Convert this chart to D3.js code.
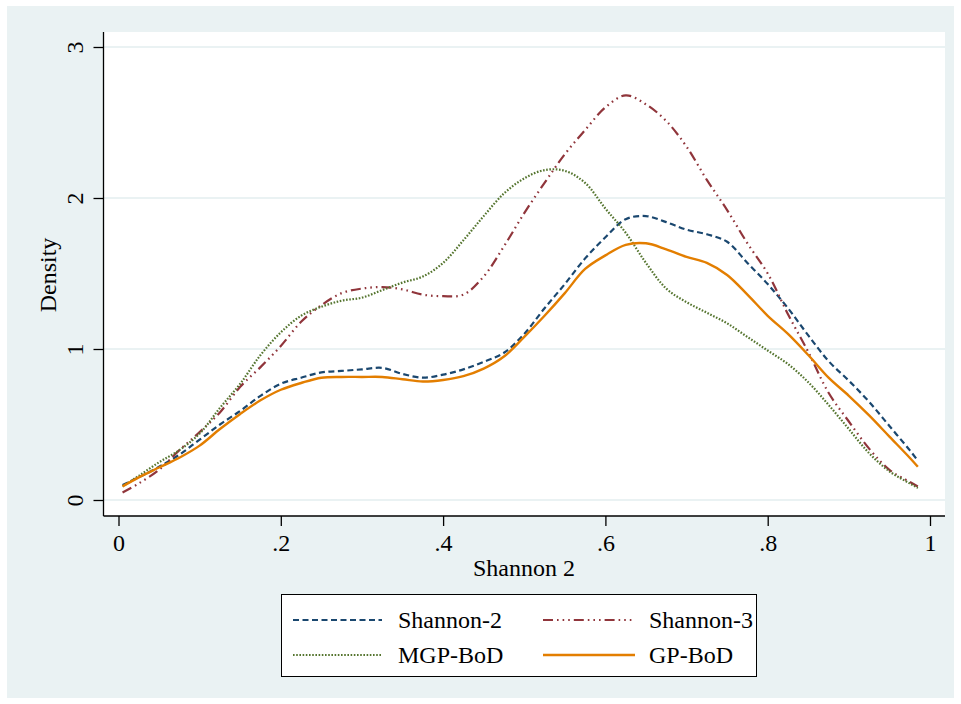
<!DOCTYPE html>
<html>
<head>
<meta charset="utf-8">
<script src="https://cdn.jsdelivr.net/npm/d3@7"></script>
<style>
  body { margin: 0; background: #fff; }
  text { font-family: "Liberation Serif", "Times New Roman", serif; fill: #000; }
</style>
</head>
<body>
<svg id="chart" width="961" height="704"></svg>
<script>
// density estimates
var xs = [0.005, 0.025, 0.05, 0.075, 0.1, 0.125, 0.15, 0.175, 0.2, 0.225, 0.25, 0.275, 0.3, 0.325,
    0.35, 0.375, 0.4, 0.425, 0.45, 0.475, 0.5, 0.525, 0.55, 0.575, 0.6, 0.625, 0.65, 0.675, 0.7,
    0.725, 0.75, 0.775, 0.8, 0.825, 0.85, 0.875, 0.9, 0.925, 0.95, 0.975, 0.985];

var shannon2 = [0.10, 0.15, 0.22, 0.30, 0.40, 0.50, 0.59, 0.69, 0.77, 0.81, 0.845, 0.855, 0.865, 0.875,
    0.835, 0.81, 0.83, 0.865, 0.915, 0.975, 1.10, 1.27, 1.43, 1.60, 1.74, 1.86, 1.88, 1.84, 1.79,
    1.76, 1.71, 1.57, 1.43, 1.27, 1.09, 0.92, 0.79, 0.65, 0.49, 0.33, 0.26];

var shannon3 = [0.05, 0.11, 0.20, 0.33, 0.45, 0.58, 0.75, 0.88, 1.02, 1.18, 1.29, 1.37, 1.40, 1.41,
    1.395, 1.36, 1.35, 1.36, 1.48, 1.68, 1.90, 2.10, 2.29, 2.45, 2.60, 2.68, 2.62, 2.51, 2.34,
    2.12, 1.92, 1.70, 1.50, 1.23, 0.98, 0.71, 0.52, 0.34, 0.20, 0.12, 0.09];

var mgpBoD = [0.09, 0.16, 0.25, 0.33, 0.44, 0.61, 0.77, 0.96, 1.11, 1.22, 1.28, 1.32, 1.34, 1.39,
    1.44, 1.48, 1.57, 1.72, 1.88, 2.03, 2.13, 2.185, 2.18, 2.10, 1.93, 1.77, 1.57, 1.40, 1.31,
    1.24, 1.17, 1.08, 0.99, 0.90, 0.78, 0.63, 0.47, 0.31, 0.19, 0.11, 0.08];

var gpBoD = [0.09, 0.15, 0.215, 0.28, 0.36, 0.47, 0.57, 0.66, 0.73, 0.775, 0.81, 0.815, 0.815, 0.815,
    0.80, 0.785, 0.795, 0.82, 0.87, 0.95, 1.08, 1.22, 1.37, 1.53, 1.62, 1.69, 1.70, 1.66, 1.61,
    1.57, 1.49, 1.36, 1.22, 1.10, 0.96, 0.81, 0.69, 0.56, 0.42, 0.28, 0.22];

var xTicks = [0, 0.2, 0.4, 0.6, 0.8, 1];
var xTickLabels = ["0", ".2", ".4", ".6", ".8", "1"];
var yTicks = [0, 1, 2, 3];

var series = [
    { name: "Shannon-2", values: shannon2, color: "#1a476f", width: 2.2, dash: "6,3.5" },
    { name: "Shannon-3", values: shannon3, color: "#90353b", width: 2.2, dash: "10,4,1.6,4,1.6,4,1.6,4" },
    { name: "MGP-BoD", values: mgpBoD, color: "#55752f", width: 2.2, dash: "1.6,1.6" },
    { name: "GP-BoD", values: gpBoD, color: "#e37e00", width: 2.4, dash: null }
];

var svg = d3.select("#chart");

// figure background
svg.append("rect")
    .attr("x", 7).attr("y", 6)
    .attr("width", 947).attr("height", 692)
    .attr("fill", "#eaf2f3");

var plot = { left: 103.5, top: 32, right: 945, bottom: 516 };

svg.append("rect")
    .attr("x", plot.left).attr("y", plot.top)
    .attr("width", plot.right - plot.left).attr("height", plot.bottom - plot.top)
    .attr("fill", "#fff");

var x = d3.scaleLinear().domain([0, 1]).range([118.5, 930]);
var y = d3.scaleLinear().domain([0, 3]).range([500, 47]);

// gridlines
svg.append("g")
    .selectAll("line")
    .data(yTicks)
    .enter().append("line")
    .attr("x1", plot.left).attr("x2", plot.right)
    .attr("y1", function(d) { return y(d); })
    .attr("y2", function(d) { return y(d); })
    .attr("stroke", "#eaf2f3")
    .attr("stroke-width", 2);

// y axis
var yAxis = svg.append("g")
    .attr("transform", "translate(" + plot.left + ",0)")
    .call(d3.axisLeft(y).tickValues(yTicks).tickSize(10).tickPadding(6).tickFormat(d3.format("d")));
yAxis.select(".domain").attr("d", "M0," + plot.top + "V" + plot.bottom).attr("stroke", "#000").attr("stroke-width", 1.3);
yAxis.selectAll(".tick line").attr("stroke", "#000").attr("stroke-width", 1.3);
yAxis.selectAll(".tick text")
    .attr("x", null).attr("dy", null)
    .attr("text-anchor", "middle")
    .attr("transform", "translate(-28,0) rotate(-90)")
    .attr("dy", "0.33em")
    .style("font-size", "24px")
    .style("font-family", "Liberation Serif");

// x axis
var xAxis = svg.append("g")
    .attr("transform", "translate(0," + plot.bottom + ")")
    .call(d3.axisBottom(x).tickValues(xTicks).tickSize(10).tickPadding(8)
        .tickFormat(function(d, i) { return xTickLabels[i]; }));
xAxis.select(".domain").attr("d", "M" + plot.left + ",0H" + plot.right).attr("stroke", "#000").attr("stroke-width", 1.3);
xAxis.selectAll(".tick line").attr("stroke", "#000").attr("stroke-width", 1.3);
xAxis.selectAll(".tick text")
    .style("font-size", "24px")
    .style("font-family", "Liberation Serif");

// axis titles
svg.append("text")
    .attr("transform", "translate(56,275) rotate(-90)")
    .attr("text-anchor", "middle")
    .style("font-size", "24px")
    .text("Density");

svg.append("text")
    .attr("x", 524).attr("y", 576)
    .attr("text-anchor", "middle")
    .style("font-size", "24px")
    .text("Shannon 2");

// curves
var line = d3.line()
    .x(function(d, i) { return x(xs[i]); })
    .y(function(d) { return y(d); })
    .curve(d3.curveCatmullRom.alpha(0.5));

svg.append("g")
    .selectAll("path")
    .data(series)
    .enter().append("path")
    .attr("d", function(s) { return line(s.values); })
    .attr("fill", "none")
    .attr("stroke", function(s) { return s.color; })
    .attr("stroke-width", function(s) { return s.width; })
    .attr("stroke-dasharray", function(s) { return s.dash; });

// legend
var legend = svg.append("g");
legend.append("rect")
    .attr("x", 281.5).attr("y", 594.5)
    .attr("width", 475).attr("height", 82)
    .attr("fill", "#fff")
    .attr("stroke", "#000")
    .attr("stroke-width", 1);

var cols = [{ x1: 293, x2: 382, tx: 398 }, { x1: 543, x2: 635, tx: 649 }];
var rows = [620, 655];

var item = legend.selectAll("g.item")
    .data(series)
    .enter().append("g")
    .attr("class", "item")
    .attr("transform", function(d, i) {
        return "translate(0," + rows[Math.floor(i / 2)] + ")";
    });

item.append("line")
    .attr("x1", function(d, i) { return cols[i % 2].x1; })
    .attr("x2", function(d, i) { return cols[i % 2].x2; })
    .attr("stroke", function(s) { return s.color; })
    .attr("stroke-width", function(s) { return s.width; })
    .attr("stroke-dasharray", function(s) { return s.dash; });

item.append("text")
    .attr("x", function(d, i) { return cols[i % 2].tx; })
    .attr("dy", "0.35em")
    .style("font-size", "24px")
    .text(function(s) { return s.name; });
</script>
</body>
</html>
